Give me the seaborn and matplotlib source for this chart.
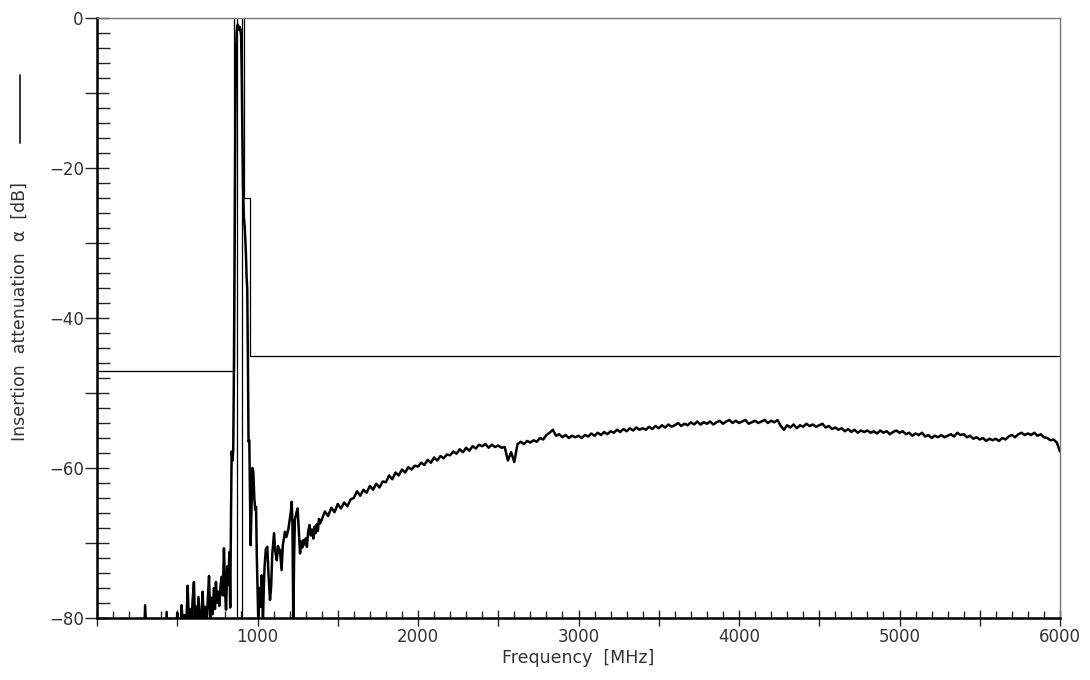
import numpy as np
import pandas as pd
import matplotlib
matplotlib.use("Agg")
import matplotlib.pyplot as plt
from matplotlib.ticker import MultipleLocator, FuncFormatter
from matplotlib.lines import Line2D
import seaborn as sns

# irregular part of the trace: noise floor, passband, transition up to 1400 MHz
low_freq_mhz = [
    0, 100, 200, 290, 300, 310, 425, 434, 442, 492,
    500, 508, 520, 527, 535, 545, 555, 565, 572, 580,
    588, 596, 604, 610, 618, 625, 632, 640, 648, 658,
    665, 672, 680, 690, 698, 705, 712, 720, 729, 735,
    741, 748, 755, 762, 770, 777, 784, 791, 798, 804,
    812, 818, 825, 830, 835, 839, 844, 849, 853, 858,
    862, 866, 870, 874, 878, 882, 886, 890, 894, 898,
    902, 906, 910, 915, 920, 924, 928, 932, 936, 940,
    944, 949, 953, 957, 962, 968, 974, 980, 986, 991,
    996, 1005, 1012, 1020, 1026, 1034, 1040, 1044, 1052, 1061,
    1068, 1078, 1085, 1092, 1103, 1110, 1120, 1128, 1134, 1140,
    1150, 1158, 1164, 1171, 1180, 1192, 1200, 1208, 1213, 1218,
    1223, 1228, 1233, 1242, 1250, 1258, 1265, 1272, 1280, 1286,
    1293, 1300, 1308, 1315, 1324, 1332, 1340, 1348, 1356, 1362,
    1369, 1376, 1383, 1390,
]
low_atten_db = [
    -86, -85, -86, -85, -78.3, -85, -85, -79.2, -85, -84,
    -79.3, -83, -82, -78.3, -81, -79.6, -82, -75.7, -80.5, -78.8,
    -81, -77.5, -75.2, -80, -78.5, -81, -77.2, -79.6, -82, -76.5,
    -80.5, -78.5, -81, -77.8, -74.4, -80.2, -77.3, -79.5, -76.0, -78.8,
    -75.2, -78.0, -76.5, -78.4, -75.6, -74.5, -77.0, -70.7, -76.5, -78.9,
    -73.1, -75.6, -71.2, -78.6, -66.0, -57.8, -59.0, -57.5, -47.0, -28.0,
    -14.0, -5.0, -1.8, -1.0, -0.9, -1.3, -1.6, -1.2, -1.5, -2.5,
    -8.0, -16.0, -22.5, -26.5, -27.8, -29.5, -31.5, -34.5, -36.0, -45.0,
    -56.5, -56.3, -63.0, -70.3, -66.0, -60.0, -60.5, -64.0, -65.6, -65.2,
    -72.0, -80.5, -76.0, -78.5, -74.3, -80.5, -75.5, -73.2, -70.8, -70.5,
    -74.0, -77.6, -75.8, -71.5, -68.7, -71.0, -72.3, -70.4, -71.3, -70.9,
    -73.6, -70.2, -69.5, -68.5, -69.2, -68.2, -67.0, -65.8, -64.5, -67.5,
    -81.0, -72.0, -66.9, -66.0, -65.4, -68.5, -71.4, -69.8, -70.6, -69.6,
    -70.2, -69.4, -70.5, -68.6, -67.6, -69.0, -68.2, -69.4, -67.8, -68.7,
    -67.5, -68.4, -66.8, -67.4,
]

# evenly swept part of the trace, 20 MHz steps from 1400 to 6000 MHz
sweep_freq_mhz = np.arange(1400, 6001, 20)
sweep_atten_db = [
    -66.9, -65.8, -66.4, -65.3, -65.9, -64.8, -65.4, -64.6, -65.1, -64.2,
    -64.0, -63.1, -63.7, -62.9, -63.3, -62.4, -62.9, -62.1, -62.6, -61.8,
    -61.9, -61.0, -61.5, -60.6, -61.0, -60.2, -60.6, -59.9, -60.2, -59.7,
    -59.8, -59.3, -59.6, -58.9, -59.3, -58.6, -59.0, -58.4, -58.7, -58.2,
    -58.3, -57.8, -58.1, -57.5, -57.9, -57.3, -57.7, -57.1, -57.4, -56.9,
    -57.1, -56.8, -57.3, -56.9, -57.2, -57.0, -57.3, -57.2, -59.0, -57.9,
    -59.2, -56.8, -56.5, -56.8, -56.4, -56.6, -56.3, -56.5, -56.0, -56.2,
    -55.6, -55.3, -54.9, -55.7, -55.5, -55.9, -55.6, -56.0, -55.7, -55.9,
    -55.7, -56.0, -55.6, -55.8, -55.4, -55.7, -55.3, -55.6, -55.2, -55.5,
    -55.1, -55.3, -54.9, -55.2, -54.8, -55.1, -54.7, -55.0, -54.6, -54.9,
    -54.7, -54.9, -54.5, -54.8, -54.4, -54.7, -54.3, -54.6, -54.2, -54.5,
    -54.3, -54.0, -54.4, -54.1, -54.3, -53.9, -54.2, -53.8, -54.2, -53.9,
    -54.1, -53.8, -54.2, -53.9, -53.7, -54.1, -53.8, -53.6, -54.0, -53.7,
    -54.0, -53.8, -53.6, -54.1, -53.9, -53.7, -54.0, -53.8, -53.6, -54.0,
    -53.7, -53.9, -53.6, -54.4, -54.9, -54.3, -54.6, -54.2, -54.7, -54.3,
    -54.5, -54.1, -54.4, -54.2, -54.5, -54.3, -54.1, -54.6, -54.4, -54.8,
    -54.6, -54.9, -54.7, -55.1, -54.8, -55.2, -54.9, -55.3, -55.0, -55.2,
    -55.0, -55.3, -55.1, -55.4, -55.0, -55.3, -55.1, -55.5, -55.2, -55.0,
    -55.3, -55.1, -55.5, -55.3, -55.7, -55.4, -55.6, -55.3, -55.8, -55.6,
    -56.0, -55.7, -55.9, -55.6, -55.9, -55.7, -55.5, -55.8, -55.3, -55.6,
    -55.5, -55.9, -55.7, -56.1, -55.9, -56.2, -56.0, -56.4, -56.1, -56.3,
    -56.1, -56.4, -56.0, -56.2, -55.8, -55.6, -55.9, -55.5, -55.3, -55.6,
    -55.4, -55.6, -55.3, -55.7, -55.5, -55.9, -56.0, -56.3, -56.2, -56.6,
    -57.8,
]

# tolerance mask
mask_low_freq = [0, 853, 853]
mask_low_db = [-47, -47, 0]
mask_high_freq = [916, 916, 953, 953, 6000]
mask_high_db = [0, -24, -24, -45, -45]
passband_edges = [875, 901]

trace = pd.DataFrame({
    "freq": list(low_freq_mhz) + list(sweep_freq_mhz),
    "atten": list(low_atten_db) + list(sweep_atten_db),
})

sns.set_style("ticks")
plt.rcParams["font.family"] = ["DejaVu Sans"]

fig = plt.figure(figsize=(10.9, 6.8), dpi=100)
ax = fig.add_axes([97 / 1090, 62 / 680, 963 / 1090, 600 / 680])

sns.lineplot(data=trace, x="freq", y="atten", ax=ax, color="black",
             linewidth=1.8, estimator=None, sort=False)

ax.plot(mask_low_freq, mask_low_db, color="black", linewidth=0.9)
ax.plot(mask_high_freq, mask_high_db, color="black", linewidth=0.9)
for f in passband_edges:
    ax.plot([f, f], [-80, 0], color="black", linewidth=0.9)

ax.set_xlim(0, 6000)
ax.set_ylim(-80, 0)

ax.xaxis.set_major_locator(MultipleLocator(500))
ax.xaxis.set_minor_locator(MultipleLocator(100))
ax.yaxis.set_major_locator(MultipleLocator(10))
ax.yaxis.set_minor_locator(MultipleLocator(2))
ax.xaxis.set_major_formatter(FuncFormatter(
    lambda v, p: f"{int(v)}" if v > 0 and v % 1000 == 0 else ""))
ax.yaxis.set_major_formatter(FuncFormatter(
    lambda v, p: f"\u2212{int(-v)}" if v < 0 and v % 20 == 0 else ("0" if v == 0 else "")))

ax.tick_params(axis="x", which="major", direction="inout", length=11, width=1.0,
               labelsize=12, labelcolor="#333333", pad=2)
ax.tick_params(axis="x", which="minor", direction="in", length=5, width=1.0)
ax.tick_params(axis="y", which="major", direction="inout", length=17, width=1.0,
               labelsize=12, labelcolor="#333333", pad=1)
ax.tick_params(axis="y", which="minor", direction="in", length=9, width=1.0)

for side in ["left", "bottom"]:
    ax.spines[side].set_color("black")
    ax.spines[side].set_linewidth(1.8)
for side in ["top", "right"]:
    ax.spines[side].set_color("#777777")
    ax.spines[side].set_linewidth(1.0)

ax.set_xlabel("Frequency  [MHz]", fontsize=12.5, color="#333333", labelpad=2)
ax.set_ylabel("")

fig.text(20 / 1090, 1 - 312 / 680, "Insertion  attenuation  \u03b1  [dB]",
         rotation=90, ha="center", va="center", fontsize=12.5, color="#333333")
fig.add_artist(Line2D([20 / 1090, 20 / 1090], [1 - 75 / 680, 1 - 143 / 680],
                      color="#222222", linewidth=1.3))

fig.savefig("out.png", dpi=100)
